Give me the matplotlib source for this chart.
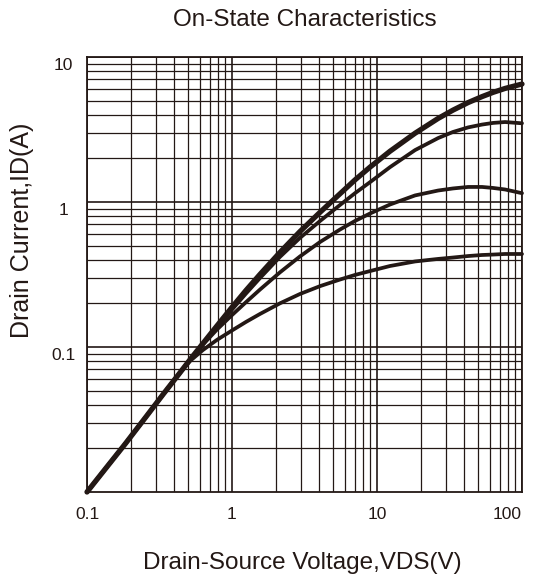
import numpy as np
import matplotlib
matplotlib.use("Agg")
import matplotlib.pyplot as plt
from matplotlib.ticker import FixedLocator, LogLocator, NullFormatter
from matplotlib.transforms import ScaledTranslation

plt.rcParams['font.family'] = ['Liberation Sans', 'DejaVu Sans']

# Data (VDS in V, ID in A)
vds = [0.1, 0.135, 0.183, 0.264, 0.334, 0.425, 0.513, 0.631, 0.788, 1.0, 1.25,
       1.56, 2.14, 2.94, 4.05, 5.56, 7.05, 8.95, 12.3, 18.3, 26.4, 33.4, 42.5,
       53.0, 63.1, 76.4, 100]

id_top = [0.01, 0.0146, 0.0214, 0.0345, 0.047, 0.064, 0.0817, 0.106, 0.140, 0.188, 0.246,
          0.317, 0.449, 0.625, 0.850, 1.14, 1.42, 1.74, 2.24, 2.98, 3.77, 4.30, 4.85,
          5.33, 5.70, 6.07, 6.51]
id_2 = [0.01, 0.0146, 0.0214, 0.0345, 0.047, 0.064, 0.0817, 0.105, 0.138, 0.181, 0.234,
        0.299, 0.418, 0.565, 0.740, 0.954, 1.15, 1.37, 1.74, 2.28, 2.76, 3.04, 3.27,
        3.42, 3.51, 3.56, 3.49]
id_3 = [0.01, 0.0146, 0.0214, 0.0345, 0.047, 0.064, 0.0816, 0.104, 0.132, 0.166, 0.204,
        0.249, 0.327, 0.421, 0.530, 0.646, 0.740, 0.833, 0.961, 1.11, 1.20, 1.24, 1.27,
        1.27, 1.25, 1.22, 1.15]
id_4 = [0.01, 0.0146, 0.0214, 0.0345, 0.047, 0.064, 0.080, 0.0954, 0.112, 0.130, 0.149,
        0.169, 0.200, 0.232, 0.263, 0.292, 0.314, 0.334, 0.362, 0.389, 0.405, 0.414, 0.424,
        0.431, 0.434, 0.438, 0.438]

x_ticks = [0.1, 1, 10, 100]
x_ticklabels = ["0.1", "1", "10", "100"]
y_ticks = [0.1, 1, 10]
y_ticklabels = ["0.1", "1", "10"]

ink = '#231815'

fig = plt.figure(figsize=(5.36, 5.76), dpi=100)
ax = fig.add_axes([87 / 536, 1 - 492 / 576, 435 / 536, 435 / 576])

ax.set_xscale('log')
ax.set_yscale('log')
ax.set_xlim(0.1, 100)
ax.set_ylim(0.01, 10)

# grid: decades + 2..9 subdivisions
ax.xaxis.set_major_locator(FixedLocator(x_ticks))
ax.yaxis.set_major_locator(FixedLocator(y_ticks))
ax.xaxis.set_minor_locator(LogLocator(base=10, subs=np.arange(2, 10)))
ax.yaxis.set_minor_locator(LogLocator(base=10, subs=np.arange(2, 10)))
ax.xaxis.set_minor_formatter(NullFormatter())
ax.yaxis.set_minor_formatter(NullFormatter())
ax.grid(True, which='major', color=ink, lw=1.2)
ax.grid(True, which='minor', color=ink, lw=0.9)
ax.set_axisbelow(True)

for curve, lw in [(id_4, 2.7), (id_3, 2.7), (id_2, 2.7), (id_top, 3.8)]:
    ax.plot(vds, curve, color=ink, lw=lw, solid_capstyle='round',
            solid_joinstyle='round', clip_on=False, zorder=3)

for s in ax.spines.values():
    s.set_color(ink)
    s.set_linewidth(1.3)

ax.tick_params(which='both', length=0)
ax.set_xticks(x_ticks)
ax.set_xticklabels(x_ticklabels, fontsize=12.5, color=ink)
ax.set_yticks(y_ticks)
ax.set_yticklabels(y_ticklabels, fontsize=12.5, color=ink)
ax.tick_params(axis='x', pad=11)
ax.tick_params(axis='y', pad=17)

for lab in ax.get_yticklabels():
    lab.set_horizontalalignment('center')
    lab.set_transform(lab.get_transform() + ScaledTranslation(0, -5 / 72, fig.dpi_scale_trans))
last = ax.get_xticklabels()[-1]
last.set_horizontalalignment('right')

ax.set_xlabel("Drain-Source Voltage,VDS(V)", fontsize=17.5, color=ink, va='center')
ax.xaxis.set_label_coords(0.495, -0.163)
ax.set_ylabel("Drain Current,ID(A)", fontsize=18, color=ink, va='center')
ax.yaxis.set_label_coords(-0.149, 0.602)

fig.text(304.5 / 536, 1 - 20 / 576, "On-State Characteristics", fontsize=17.5,
         color=ink, ha='center', va='center')

fig.savefig("out.png", dpi=100, facecolor='white')
